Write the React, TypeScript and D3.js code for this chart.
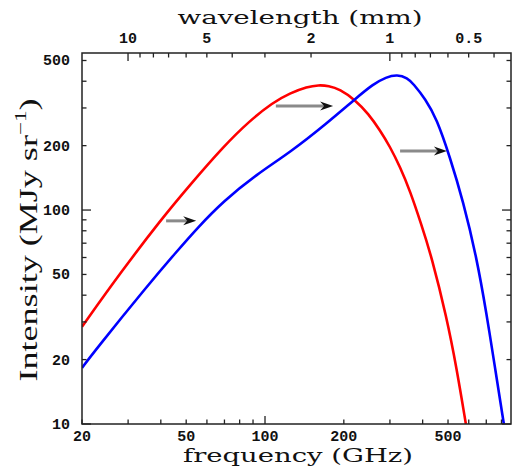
import React from 'react'
import * as d3 from 'd3'

// (GHz, MJy/sr)
const redFreq = [20, 28, 40.4, 51.7, 69.3, 87.6, 107, 124.6, 145, 160, 175, 193, 221, 248, 275, 300, 328, 358, 395, 432, 494, 539, 585]
const redInt = [28.5, 50.8, 91.4, 131, 198, 262, 318, 352, 377, 384, 381, 367, 327, 282, 236, 198, 159, 123, 86, 61, 31.5, 18.3, 10]
const blueFreq = [20, 22.4, 35.4, 46, 54.9, 69.3, 93, 124.6, 172, 220.6, 259, 290, 320, 350, 368, 410, 452, 508, 571, 643, 701, 755, 817]
const blueInt = [18.3, 22, 44, 64, 82, 110, 147, 186, 254, 330, 388, 418, 430, 414, 390, 330, 268, 177.5, 110, 60, 33, 18.5, 10]

// arrows: [from GHz, to GHz, intensity]
const arrows = [[41.9, 54.6, 89], [110, 182, 306], [328, 495, 189]]

const xTickLabels = [20, 50, 100, 200, 500]
const xTicks = [20, 30, 40, 50, 60, 70, 80, 90, 100, 200, 300, 400, 500, 600, 700, 800]
const yTickLabels = [10, 20, 50, 100, 200, 500]
const yTicks = [10, 20, 30, 40, 50, 60, 70, 80, 90, 100, 200, 300, 400, 500]
const wlTickLabels = ['10', '5', '2', '1', '0.5']
const wlTicks = [10, 9, 8, 7, 6, 5, 4, 3, 2, 1, 0.9, 0.8, 0.7, 0.6, 0.5, 0.4]

const C = 299.792458 // GHz*mm

export default function App(){
  const W = 512, H = 468
  const m = {left:82, right:511, top:53, bottom:424}
  const x = d3.scaleLog().domain([20,870]).range([m.left,m.right])
  const y = d3.scaleLog().domain([10,542]).range([m.bottom,m.top])
  const line = d3.line<[number,number]>().x(d=>x(d[0])).y(d=>y(d[1])).curve(d3.curveBasis)
  const red = line(redFreq.map((f,i)=>[f,redInt[i]]))!
  const blue = line(blueFreq.map((f,i)=>[f,blueInt[i]]))!
  const isMajor = (v:number)=>Math.abs(Math.log10(v)-Math.round(Math.log10(v)))<1e-6
  const tickFont = {fontFamily:'Liberation Mono', fontWeight:'bold', fontSize:15, fill:'#111'} as const
  const titleFont = {fontFamily:'DejaVu Serif', fill:'#111'} as const

  return (<svg width={W} height={H} style={{position:'absolute',left:0,top:0,background:'#fff'}}>
    <defs>
      <clipPath id="plot"><rect x={m.left} y={m.top} width={m.right-m.left} height={m.bottom-m.top}/></clipPath>
    </defs>
    <g clipPath="url(#plot)" fill="none" strokeWidth={2.6} strokeLinejoin="round">
      <path d={red} stroke="#ff0000"/>
      <path d={blue} stroke="#0000ff"/>
    </g>
    {arrows.map(([a,b,v],i)=>{
      const x0=x(a), x1=x(b), yy=y(v)
      return <g key={i}>
        <line x1={x0} x2={x1-9} y1={yy} y2={yy} stroke="#8a8a8a" strokeWidth={3}/>
        <path d={`M${x1},${yy}L${x1-13},${yy-4.5}L${x1-9},${yy}L${x1-13},${yy+4.5}Z`} fill="#111"/>
      </g>
    })}
    <rect x={m.left} y={m.top} width={m.right-m.left} height={m.bottom-m.top} fill="none" stroke="#222" strokeWidth={1.5}/>
    {xTicks.map(t=>{
      const len = isMajor(t)?8:4.5
      return <line key={'x'+t} x1={x(t)} x2={x(t)} y1={m.bottom} y2={m.bottom-len} stroke="#222" strokeWidth={1.3}/>
    })}
    {wlTicks.map(t=>{
      const len = isMajor(t)?8:4.5
      return <line key={'w'+t} x1={x(C/t)} x2={x(C/t)} y1={m.top} y2={m.top+len} stroke="#222" strokeWidth={1.3}/>
    })}
    {yTicks.map(t=>{
      const len = isMajor(t)?9:4.5
      return <g key={'y'+t} stroke="#222" strokeWidth={1.3}>
        <line x1={m.left} x2={m.left+len} y1={y(t)} y2={y(t)}/>
        <line x1={m.right} x2={m.right-len} y1={y(t)} y2={y(t)}/>
      </g>
    })}
    {xTickLabels.map(t=><text key={'xl'+t} x={x(t)} y={441} textAnchor="middle" {...tickFont}>{t}</text>)}
    {wlTickLabels.map(t=><text key={'wl'+t} x={x(C/+t)} y={43} textAnchor="middle" {...tickFont}>{t}</text>)}
    {yTickLabels.map(t=><text key={'yl'+t} x={70} y={y(t)+5} textAnchor="end" {...tickFont}>{t}</text>)}
    <text x={300} y={24} textAnchor="middle" fontSize={19} textLength={245} lengthAdjust="spacingAndGlyphs" {...titleFont}>wavelength (mm)</text>
    <text x={298} y={462} textAnchor="middle" fontSize={18} textLength={230} lengthAdjust="spacingAndGlyphs" {...titleFont}>frequency (GHz)</text>
    <text transform="translate(37,240) rotate(-90)" textAnchor="middle" fontSize={25} textLength={283} lengthAdjust="spacingAndGlyphs" fontFamily="Liberation Serif" fill="#111">
      Intensity (MJy sr<tspan dy={-11} fontSize={16}>−1</tspan><tspan dy={11}>)</tspan>
    </text>
  </svg>)
}
